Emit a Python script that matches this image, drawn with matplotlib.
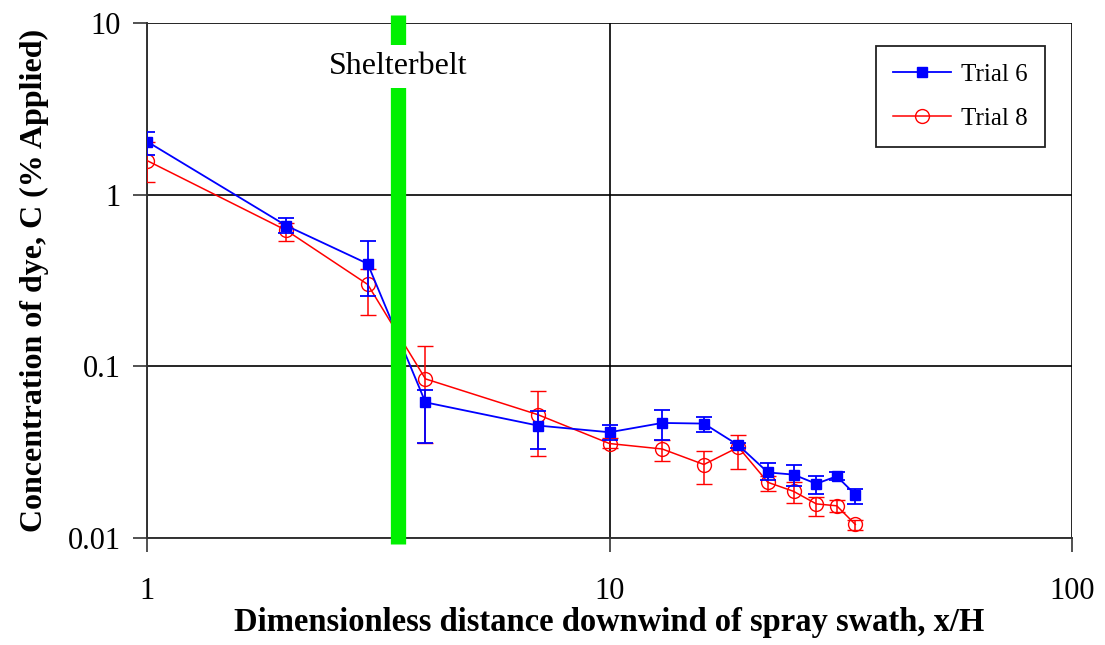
import matplotlib
matplotlib.use('Agg')
import matplotlib.pyplot as plt
import matplotlib.transforms as mtransforms
from matplotlib.lines import Line2D
from matplotlib.ticker import FixedLocator, NullLocator

# data
x = [1, 2, 3, 4, 7, 10, 13, 16, 19, 22, 25, 28, 31, 34]

trial6 = [2.04, 0.66, 0.396, 0.0617, 0.0452, 0.0413, 0.0468, 0.0464, 0.0347, 0.0241, 0.0234, 0.0207, 0.0229, 0.0179]
trial6_hi = [2.31, 0.73, 0.535, 0.073, 0.055, 0.0455, 0.056, 0.0507, 0.036, 0.0274, 0.0267, 0.0229, 0.0241, 0.0193]
trial6_lo = [1.71, 0.60, 0.256, 0.0358, 0.0332, 0.037, 0.0374, 0.0413, 0.0333, 0.0218, 0.020, 0.018, 0.0217, 0.0157]

trial8 = [1.58, 0.62, 0.30, 0.0845, 0.0523, 0.0355, 0.033, 0.0268, 0.0338, 0.0211, 0.0187, 0.0158, 0.0154, 0.012]
trial8_hi = [2.02, 0.68, 0.37, 0.131, 0.0722, 0.038, 0.0374, 0.0323, 0.040, 0.0229, 0.0213, 0.0174, 0.0167, 0.0128]
trial8_lo = [1.18, 0.535, 0.20, 0.0358, 0.0299, 0.0335, 0.0282, 0.0205, 0.0253, 0.0189, 0.0159, 0.0135, 0.0142, 0.0111]

shelterbelt_x = 3.49

plt.rcParams['font.family'] = ['Liberation Serif', 'DejaVu Serif']

fig = plt.figure(figsize=(11.05, 6.45), dpi=100)
ax = fig.add_axes([147 / 1105, 1 - 538 / 645, (1072 - 147) / 1105, (538 - 23) / 645])

err6 = [[a - b for a, b in zip(trial6, trial6_lo)], [b - a for a, b in zip(trial6, trial6_hi)]]
err8 = [[a - b for a, b in zip(trial8, trial8_lo)], [b - a for a, b in zip(trial8, trial8_hi)]]

ax.errorbar(x, trial6, yerr=err6, color='#0000ff', lw=1.3, marker='s', ms=7,
            mfc='#0000ff', mec='#0000ff', capsize=6, elinewidth=1.3, capthick=1.3,
            zorder=4)
ax.errorbar(x, trial8, yerr=err8, color='#ff0000', lw=1.1, marker='o', ms=10,
            mfc='none', mec='#ff0000', mew=1.0, capsize=6, elinewidth=1.1, capthick=1.1,
            zorder=3)

ax.set_xscale('log')
ax.set_yscale('log')
ax.set_xlim(1, 100)
ax.set_ylim(0.01, 10)

ax.xaxis.set_major_locator(FixedLocator([1, 10, 100]))
ax.yaxis.set_major_locator(FixedLocator([0.01, 0.1, 1, 10]))
ax.xaxis.set_minor_locator(NullLocator())
ax.yaxis.set_minor_locator(NullLocator())
ax.set_xticklabels(['1', '10', '100'])
ax.set_yticklabels(['0.01', '0.1', '1', '10'])
ax.tick_params(axis='both', which='major', direction='out', length=10, width=1.2,
               color='#333333', labelsize=22)
ax.tick_params(axis='x', pad=18)
ax.tick_params(axis='y', pad=9)

ax.grid(True, which='major', color='black', lw=1.2)
ax.set_axisbelow(True)
for side in ['top', 'right']:
    ax.spines[side].set_visible(False)
for side in ['left', 'bottom']:
    ax.spines[side].set_color('#333333')
    ax.spines[side].set_linewidth(1.4)

# shelterbelt bar
trans = mtransforms.blended_transform_factory(ax.transData, ax.transAxes)
ax.plot([shelterbelt_x, shelterbelt_x], [-0.012, 1.016], transform=trans,
        color='#00f000', lw=11, solid_capstyle='butt', clip_on=False, zorder=6)
ax.text(shelterbelt_x, 0.915, 'Shelterbelt', transform=trans, ha='center', va='center',
        fontsize=23, zorder=7,
        bbox=dict(facecolor='white', edgecolor='none', pad=5))

ax.set_xlabel('Dimensionless distance downwind of spray swath, x/H',
              fontsize=23.5, fontweight='bold', labelpad=1)
ax.set_ylabel('Concentration of dye, C (% Applied)', fontsize=23, fontweight='bold', labelpad=13)

handles = [
    Line2D([], [], color='#0000ff', lw=1.3, marker='s', ms=7, mfc='#0000ff', mec='#0000ff'),
    Line2D([], [], color='#ff0000', lw=1.1, marker='o', ms=10, mfc='none', mec='#ff0000'),
]
leg = ax.legend(handles, ['Trial 6', 'Trial 8'], loc='upper right',
                bbox_to_anchor=(1045 / 1105, 1 - 46 / 645),
                bbox_transform=fig.transFigure, borderaxespad=0, fontsize=18, frameon=True,
                fancybox=False, edgecolor='#222222', borderpad=0.7, labelspacing=0.85,
                handlelength=2.3, handletextpad=0.4, framealpha=1)
leg.get_frame().set_linewidth(1.3)

fig.savefig('out.png', dpi=100)
plt.close(fig)
